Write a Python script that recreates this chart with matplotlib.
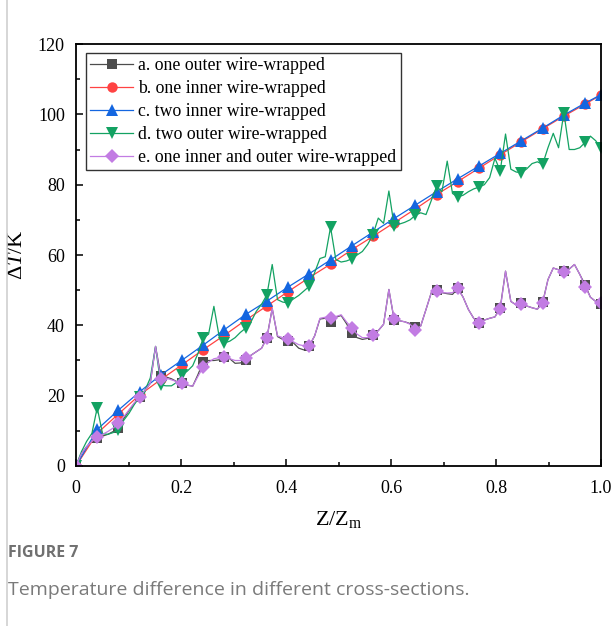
import numpy as np
import matplotlib
matplotlib.use('Agg')
import matplotlib.pyplot as plt
from matplotlib.lines import Line2D
from matplotlib.ticker import MultipleLocator, FuncFormatter

plt.rcParams['font.family'] = 'Liberation Serif'
plt.rcParams['mathtext.fontset'] = 'custom'
plt.rcParams['mathtext.rm'] = 'Liberation Serif'
plt.rcParams['mathtext.it'] = 'Liberation Serif:italic'

# Z/Zm sample positions of the curves, markers sit on every 4th one (and the end)
z_fine = np.append(np.arange(99) * 0.0101, 1.0)
mark_idx = list(range(0, 97, 4)) + [99]
z_mark = z_fine[mark_idx]

labels = ['a. one outer wire-wrapped', 'b. one inner wire-wrapped',
          'c. two inner wire-wrapped', 'd. two outer wire-wrapped',
          'e. one inner and outer wire-wrapped']
colors = ['#4d4d4d', '#ff4343', '#1466e0', '#13a262', '#c27ce3']

# a. one outer wire-wrapped (fine)
dT_a = [0, 3.5, 5.5, 7, 7.9, 8.5, 9, 9.8, 10.7, 13.5,
        15.8, 17.8, 19.5, 21.5, 23.5, 34, 25.5, 25.3, 24.8, 24,
        23.5, 23, 22.7, 26, 29.7, 30, 30, 30.2, 31, 30.5,
        29.2, 29.3, 30, 31.5, 32.5, 33.5, 36.5, 44.8, 36.8, 36,
        35.5, 35, 33.5, 33, 34.2, 37, 41.8, 42, 41, 42.3,
        42.8, 40.5, 37.7, 36.5, 36, 36.3, 37.3, 38.5, 40.3, 50.2,
        41.5, 41.3, 41, 40.5, 39.6, 39.8, 44.5, 49.3, 50, 49.3,
        49, 48.8, 50.5, 48, 44.5, 42, 40.8, 41.5, 42, 42.4,
        45, 55.4, 46.8, 45.8, 46.3, 45.5, 45, 44.6, 46.5, 53,
        56.3, 55.8, 55.5, 56, 57.3, 54.5, 51.5, 48, 46.8, 46]

# b. one inner wire-wrapped (markers only)
dT_b = [0, 9.3, 14.8, 20.2, 24.6, 28.8, 33.1, 37.2, 41.5, 45.5,
        49.6, 53.6, 57.4, 61.5, 65.3, 69.2, 73.1, 77.2, 80.9, 84.7,
        88.5, 92.2, 95.9, 99.5, 102.9, 105.5]

# c. two inner wire-wrapped (markers only)
dT_c = [0, 10.4, 15.9, 21.1, 25.9, 30.1, 34.4, 38.8, 43.1, 46.9,
        50.9, 54.7, 58.6, 62.6, 66.5, 70.4, 74.2, 78, 81.7, 85.3,
        88.9, 92.5, 96.1, 99.8, 103.2, 105.6]

# d. two outer wire-wrapped (fine)
dT_d = [0, 4, 7, 9.3, 16.6, 9.2, 9, 9.5, 10.3, 13,
        15, 17.5, 19.7, 21.5, 25, 34, 23, 22.8, 22.8, 23.8,
        25.9, 27, 28.5, 32, 36.3, 37.5, 45.4, 36.8, 35, 35.5,
        36.5, 38, 39.2, 41, 44, 46, 48.7, 57.3, 47.3, 46.6,
        46.4, 47.5, 48.5, 49.8, 51.1, 55, 59, 59.5, 67.9, 58.7,
        58, 58.3, 58.9, 60, 61, 63, 65.8, 70.5, 69, 78.2,
        68.2, 68.8, 69.3, 70, 71.3, 72, 71.5, 75.5, 79.5, 78,
        86.7, 77.5, 76.5, 77, 78, 78.8, 79.3, 80, 82, 87.5,
        83.9, 94.4, 84.4, 83.6, 83.4, 84.5, 86, 86.5, 85.8, 90.5,
        94.6, 90.5, 100.5, 90, 90, 90.5, 92, 93.8, 92.5, 90.3]

# e. one inner and outer wire-wrapped (fine)
dT_e = [0, 3.5, 5.5, 7, 8.3, 9, 9.8, 10.8, 12.1, 14,
        16, 18, 19.7, 21.5, 23.5, 34, 24.6, 25, 24.5, 24,
        23.5, 23, 22.7, 25.5, 28.2, 29.5, 30.5, 30.8, 30.9, 30.5,
        30, 30, 30.6, 31.5, 32.5, 33.5, 36.3, 44.8, 37, 36.5,
        36.1, 35.3, 34.5, 34.2, 34.2, 37, 42, 42.3, 42.1, 42.5,
        43, 41, 39.3, 37.5, 36.5, 36.5, 37.2, 38.5, 40.3, 50.2,
        41.7, 41.3, 41, 40.3, 38.7, 39.8, 44.5, 49.3, 49.9, 49.3,
        49.2, 49.3, 50.5, 48, 44.5, 42, 40.8, 41.5, 42, 42.4,
        44.6, 55.4, 46.8, 45.8, 46.1, 45.5, 45, 44.6, 46.3, 53,
        56.3, 55.8, 55.3, 56, 57.3, 54.5, 51, 48, 46.8, 46.4]

fig = plt.figure(figsize=(6.15, 6.26), dpi=100)
ax = fig.add_axes([0.1236, 0.2556, 0.8537, 0.6741])

lw = 0.9
ax.plot(z_fine, dT_a, color=colors[0], lw=lw, marker='s', ms=6.5,
        markevery=mark_idx, mew=0, label=labels[0])
ax.plot(z_mark, dT_b, color=colors[1], lw=lw, marker='o', ms=7.5,
        mew=0, label=labels[1])
ax.plot(z_mark, dT_c, color=colors[2], lw=lw, marker='^', ms=8.5,
        mew=0, label=labels[2])
ax.plot(z_fine, dT_d, color=colors[3], lw=lw, marker='v', ms=8.5,
        markevery=mark_idx, mew=0, label=labels[3])
ax.plot(z_fine, dT_e, color=colors[4], lw=lw, marker='D', ms=7,
        markevery=mark_idx, mew=0, label=labels[4])

ax.set_xlim(0, 1.0)
ax.set_ylim(0, 120)
ax.xaxis.set_major_locator(MultipleLocator(0.2))
ax.xaxis.set_minor_locator(MultipleLocator(0.1))
ax.yaxis.set_major_locator(MultipleLocator(20))
ax.yaxis.set_minor_locator(MultipleLocator(10))
ax.xaxis.set_major_formatter(FuncFormatter(lambda v, p: '0' if abs(v) < 1e-9 else f'{v:.1f}'))

for s in ax.spines.values():
    s.set_linewidth(1.3)
ax.tick_params(which='both', direction='in', top=False, right=False, width=1.1)
ax.tick_params(which='major', length=5, labelsize=13)
ax.tick_params(which='minor', length=3)
ax.tick_params(axis='x', which='major', pad=10)
ax.tick_params(axis='y', which='major', pad=8)

ax.set_xlabel('Z/Z$_{\\mathrm{m}}$', fontsize=16, labelpad=9)
ax.set_ylabel('Δ$\\mathit{T}$/K', fontsize=16, labelpad=8)

leg = ax.legend(loc='upper left', bbox_to_anchor=(0.019, 0.979), borderaxespad=0,
                fontsize=12.8, fancybox=False, framealpha=1, edgecolor='#333333',
                handlelength=2.4, handletextpad=0.3, borderpad=0.25,
                labelspacing=0.33)
leg.get_frame().set_linewidth(1.0)

# page framing and caption
fig.add_artist(Line2D([0.0115, 0.0115], [0, 1], color='#d0d0d0', lw=1.2))
fig.text(0.013, 1 - 553 / 626, 'FIGURE 7', family='Open Sans', weight='bold',
         color='#707070', fontsize=11.5, va='center')
fig.text(0.013, 1 - 590 / 626, 'Temperature difference in different cross-sections.',
         family='Open Sans', color='#7a7a7a', fontsize=14, va='center')

fig.savefig('out.png', dpi=100)
